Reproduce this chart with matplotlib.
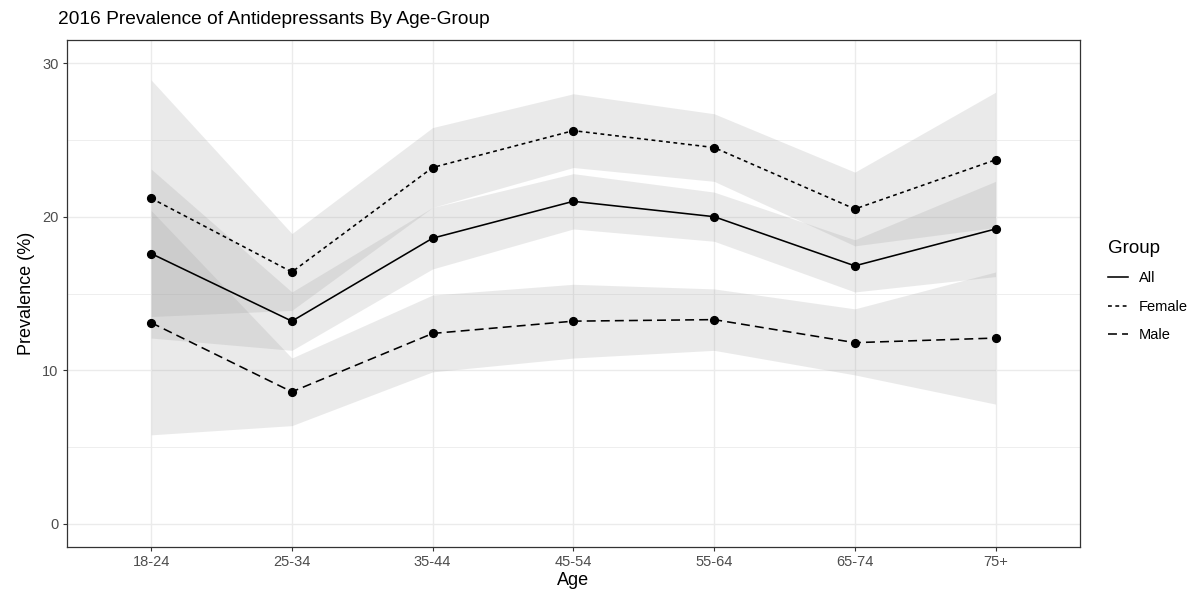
import matplotlib
matplotlib.use("Agg")
import matplotlib.pyplot as plt
from matplotlib.lines import Line2D
import numpy as np

plt.rcParams['font.family'] = ['Liberation Sans', 'DejaVu Sans']

ages = ["18-24", "25-34", "35-44", "45-54", "55-64", "65-74", "75+"]

all_val = [17.6, 13.2, 18.6, 21.0, 20.0, 16.8, 19.2]
all_lo = [12.1, 11.3, 16.6, 19.2, 18.4, 15.1, 16.1]
all_hi = [23.1, 15.1, 20.6, 22.8, 21.6, 18.5, 22.3]

female_val = [21.2, 16.4, 23.2, 25.6, 24.5, 20.5, 23.7]
female_lo = [13.5, 13.9, 20.6, 23.2, 22.3, 18.1, 19.3]
female_hi = [28.9, 18.9, 25.8, 28.0, 26.7, 22.9, 28.1]

male_val = [13.1, 8.6, 12.4, 13.2, 13.3, 11.8, 12.1]
male_lo = [5.8, 6.4, 9.9, 10.8, 11.3, 9.7, 7.8]
male_hi = [20.4, 10.8, 14.9, 15.6, 15.3, 14.0, 16.4]

groups = ["All", "Female", "Male"]

W, H = 1194, 594
fig = plt.figure(figsize=(W / 100, H / 100), dpi=100)
ax = fig.add_axes([66.7 / W, 1 - 547 / H, (1080 - 66.7) / W, (547 - 40) / H])

x = np.arange(len(ages))
series = [
    (all_val, all_lo, all_hi, dict(linestyle='-')),
    (female_val, female_lo, female_hi, dict(dashes=(2.4, 2.2))),
    (male_val, male_lo, male_hi, dict(dashes=(5.6, 3.2))),
]

for vals, lo, hi, ls in series:
    ax.fill_between(x, lo, hi, color='#999999', alpha=0.2, linewidth=0, zorder=2)

handles = []
for name, (vals, lo, hi, ls) in zip(groups, series):
    ax.plot(x, vals, color='black', linewidth=1.15, zorder=3, **ls)
    ax.plot(x, vals, 'o', color='black', markersize=5.6, zorder=4)
    handles.append(Line2D([0], [0], color='black', linewidth=1.15, **ls))

ax.set_xlim(-0.6, len(ages) - 1 + 0.6)
ax.set_ylim(-1.5, 31.5)
ax.set_xticks(x)
ax.set_xticklabels(ages)
ax.set_yticks([0, 10, 20, 30])
ax.set_yticks([5, 15, 25], minor=True)

ax.grid(True, which='major', color='#EBEBEB', linewidth=1.0, zorder=0)
ax.grid(True, which='minor', axis='y', color='#EBEBEB', linewidth=0.6, zorder=0)
ax.set_axisbelow(True)

for s in ax.spines.values():
    s.set_color('#333333')
    s.set_linewidth(0.9)

ax.tick_params(which='major', length=3, width=0.8, color='#333333',
               labelsize=10.5, labelcolor='#4D4D4D', pad=3)
ax.tick_params(which='minor', length=0)

ax.set_xlabel("Age", fontsize=13, labelpad=2)
ax.set_ylabel("Prevalence (%)", fontsize=13, labelpad=5)

fig.text(58 / W, 1 - 19 / H, "2016 Prevalence of Antidepressants By Age-Group",
         fontsize=13.8, ha='left', va='center')

leg = ax.legend(handles, groups, title="Group", loc='center left',
                bbox_to_anchor=(1.018, 0.505), frameon=False, fontsize=10.5,
                title_fontsize=13.5, handlelength=1.35, handletextpad=0.75,
                labelspacing=1.0, alignment='left', borderpad=0.2)

fig.savefig("out.png", dpi=100)
